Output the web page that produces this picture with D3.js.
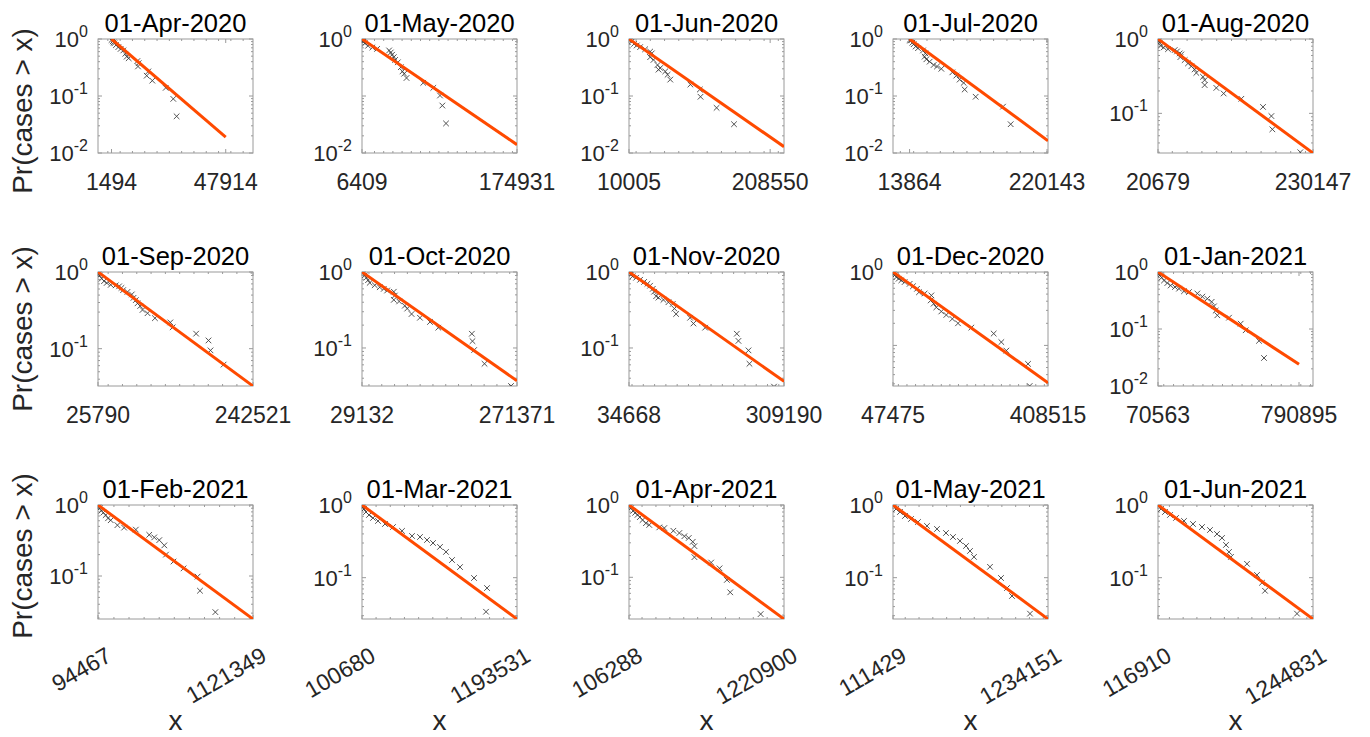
<!DOCTYPE html>
<html>
<head>
<meta charset="utf-8">
<script src="https://cdn.jsdelivr.net/npm/d3@7"></script>
<style>
  body { margin: 0; background: #fff; }
  text { font-family: "Liberation Sans", Arial, sans-serif; fill: #262626; }
</style>
</head>
<body>
<div id="chart"></div>
<script>
var width = 1370,
    height = 737;

// panel titles
var titles = ["01-Apr-2020", "01-May-2020", "01-Jun-2020", "01-Jul-2020", "01-Aug-2020",
    "01-Sep-2020", "01-Oct-2020", "01-Nov-2020", "01-Dec-2020", "01-Jan-2021",
    "01-Feb-2021", "01-Mar-2021", "01-Apr-2021", "01-May-2021", "01-Jun-2021"];

// x ticks = smallest and largest case count of each month
var xTicks = [[1494, 47914], [6409, 174931], [10005, 208550], [13864, 220143], [20679, 230147],
    [25790, 242521], [29132, 271371], [34668, 309190], [47475, 408515], [70563, 790895],
    [94467, 1121349], [100680, 1193531], [106288, 1220900], [111429, 1234151], [116910, 1244831]];

// x axis limits
var xLims = [[-4000, 59000], [6409, 174931], [10005, 228000], [-11000, 221600], [20679, 230147],
    [25790, 242521], [29132, 271371], [34668, 309190], [47475, 408515], [70563, 862400],
    [94467, 1121349], [100680, 1193531], [106288, 1220900], [111429, 1234151], [116910, 1244831]];

// lower y limit (upper is 10^0)
var yMins = [0.01, 0.01, 0.01, 0.01, 0.0293,
    0.0326, 0.0316, 0.0316, 0.028, 0.01,
    0.0248, 0.027, 0.0265, 0.027, 0.027];

// which decade labels are printed
var yTickExps = [[0, -1, -2], [0, -2], [0, -1, -2], [0, -1, -2], [0, -1],
    [0, -1], [0, -1], [0, -1], [0], [0, -1, -2],
    [0, -1], [0, -1], [0, -1], [0, -1], [0, -1]];

// exponential fit: from (x0, 1) to (x1, yEnd)
var fitX = [[1494, 47914], [6409, 174931], [10005, 228000], [13864, 221600], [20679, 230147],
    [25790, 242521], [29132, 271371], [34668, 309190], [47475, 408515], [70563, 790895],
    [94467, 1121349], [100680, 1193531], [106288, 1220900], [111429, 1234151], [116910, 1244831]];
var fitYEnd = [0.019, 0.014, 0.0129, 0.0164, 0.0293,
    0.0326, 0.037, 0.0364, 0.031, 0.024,
    0.0248, 0.027, 0.0265, 0.027, 0.027];

// empirical Pr(cases > x) points, [cases, probability]
var ptsApr20 = [[1494, 0.96], [1975, 0.91], [2300, 0.87], [2640, 0.84], [3290, 0.78], [4260, 0.72],
    [5200, 0.67], [6300, 0.63], [7100, 0.55], [7670, 0.49], [8480, 0.46], [12000, 0.41], [12540, 0.377],
    [12260, 0.33], [16460, 0.27], [15800, 0.227], [18080, 0.186], [23520, 0.139], [26600, 0.089], [27950, 0.044]];
var ptsMay20 = [[6409, 0.96], [6700, 0.94], [7100, 0.92], [7865, 0.89], [9685, 0.84], [12960, 0.76],
    [17690, 0.71], [22790, 0.67], [35890, 0.63], [37710, 0.58], [39170, 0.53], [40990, 0.48], [42440, 0.43],
    [45350, 0.39], [48630, 0.32], [50450, 0.27], [52270, 0.246], [54820, 0.207], [73020, 0.17],
    [83940, 0.139], [91220, 0.102], [93770, 0.068], [97770, 0.033]];
var ptsJun20 = [[10005, 0.96], [13780, 0.9], [17090, 0.82], [20860, 0.77], [25580, 0.72], [32660, 0.66],
    [39740, 0.6], [42100, 0.56], [39740, 0.48], [44460, 0.43], [50120, 0.35], [53900, 0.31], [51540, 0.29],
    [60970, 0.27], [64280, 0.236], [68050, 0.194], [96370, 0.159], [109600, 0.13], [110600, 0.097],
    [133200, 0.062], [157700, 0.032]];
var ptsJul20 = [[13864, 0.96], [15510, 0.94], [18010, 0.86], [20010, 0.81], [23010, 0.74], [26520, 0.69],
    [34020, 0.63], [37520, 0.56], [36520, 0.49], [39020, 0.44], [44020, 0.4], [50020, 0.35], [55030, 0.33],
    [61530, 0.3], [78040, 0.26], [84040, 0.228], [89040, 0.194], [95050, 0.17], [96550, 0.13],
    [113050, 0.097], [154100, 0.065], [165600, 0.032]];
var ptsAug20 = [[20679, 0.97], [22930, 0.89], [24280, 0.81], [28340, 0.77], [34190, 0.73], [43200, 0.71],
    [46360, 0.68], [49960, 0.64], [52210, 0.62], [50860, 0.57], [56720, 0.52], [61220, 0.47], [65730, 0.43],
    [70230, 0.39], [72480, 0.35], [81490, 0.31], [83740, 0.28], [83740, 0.24], [99510, 0.22], [109400, 0.185],
    [133300, 0.157], [162600, 0.122], [173900, 0.092], [175200, 0.061], [213000, 0.03]];
var ptsSep20 = [[25790, 0.98], [28130, 0.9], [30940, 0.82], [34220, 0.76], [37960, 0.72], [43580, 0.68],
    [50600, 0.67], [55280, 0.65], [58560, 0.62], [60900, 0.58], [66980, 0.55], [73070, 0.51], [75410, 0.46],
    [78690, 0.43], [81030, 0.39], [84770, 0.36], [88050, 0.32], [95070, 0.29], [105400, 0.25], [126900, 0.22],
    [130200, 0.19], [163000, 0.157], [180300, 0.128], [183100, 0.095], [201400, 0.062], [241100, 0.033]];
var ptsOct20 = [[29132, 0.97], [33320, 0.9], [35930, 0.84], [38550, 0.78], [41170, 0.72], [49010, 0.67],
    [56860, 0.63], [63140, 0.6], [68370, 0.57], [78840, 0.55], [80400, 0.49], [78840, 0.43], [87210, 0.41],
    [96100, 0.36], [99770, 0.33], [106600, 0.28], [119700, 0.25], [135400, 0.22], [148400, 0.185],
    [200800, 0.154], [201800, 0.123], [204400, 0.094], [220600, 0.062], [262000, 0.0316]];
var ptsNov20 = [[34668, 0.98], [37620, 0.92], [41210, 0.88], [47250, 0.84], [54330, 0.79], [61420, 0.74],
    [67320, 0.7], [72040, 0.66], [76770, 0.6], [79130, 0.55], [82670, 0.48], [86800, 0.46], [95660, 0.43],
    [104500, 0.4], [112200, 0.38], [115100, 0.33], [118100, 0.28], [142900, 0.25], [148800, 0.21],
    [169500, 0.185], [225600, 0.154], [228500, 0.124], [246300, 0.093], [248000, 0.062], [291500, 0.031]];
var ptsDec20 = [[47475, 0.97], [51360, 0.9], [55240, 0.85], [60670, 0.81], [66880, 0.77], [74650, 0.73],
    [86300, 0.69], [94060, 0.64], [103400, 0.59], [108000, 0.53], [121200, 0.51], [136800, 0.48],
    [135200, 0.41], [142200, 0.37], [148400, 0.33], [160000, 0.29], [171700, 0.26], [185700, 0.23],
    [198900, 0.2], [230000, 0.175], [282000, 0.145], [299800, 0.111], [311500, 0.085], [362000, 0.056],
    [365800, 0.028]];
var ptsJan21 = [[70563, 0.96], [79080, 0.87], [89300, 0.8], [101200, 0.71], [118300, 0.64], [135300, 0.58],
    [157400, 0.545], [177900, 0.51], [203400, 0.46], [228900, 0.445], [271500, 0.42], [297100, 0.37],
    [322600, 0.34], [344700, 0.3], [356700, 0.25], [365200, 0.21], [373700, 0.174], [433300, 0.158],
    [492900, 0.124], [518500, 0.095], [586600, 0.062], [612100, 0.031]];
var ptsFeb21 = [[94467, 0.98], [105600, 0.9], [116600, 0.83], [130000, 0.78], [145500, 0.72], [161000, 0.65],
    [178800, 0.61], [223100, 0.52], [267500, 0.48], [345100, 0.45], [433800, 0.38], [467100, 0.35],
    [500400, 0.32], [533700, 0.27], [544800, 0.2], [594700, 0.16], [661300, 0.128], [754400, 0.098],
    [770000, 0.062], [872000, 0.031]];
var ptsMar21 = [[100680, 0.969], [114800, 0.881], [128900, 0.801], [150000, 0.729], [178300, 0.663],
    [213500, 0.603], [262900, 0.548], [319300, 0.498], [382800, 0.44], [453300, 0.375], [509700, 0.363],
    [559100, 0.33], [601400, 0.3], [650700, 0.265], [693000, 0.226], [735400, 0.175], [791800, 0.14],
    [890500, 0.099], [982200, 0.072], [975100, 0.034]];
var ptsApr21 = [[106288, 0.98], [119500, 0.9], [136400, 0.83], [150800, 0.78], [167700, 0.73],
    [184500, 0.68], [203800, 0.62], [227900, 0.56], [251900, 0.53], [324100, 0.49], [360200, 0.48],
    [425200, 0.44], [468500, 0.41], [504600, 0.37], [535900, 0.35], [564800, 0.31], [576800, 0.27],
    [576800, 0.19], [697100, 0.16], [757300, 0.133], [810200, 0.092], [834300, 0.062], [1053000, 0.031]];
var ptsMay21 = [[111429, 0.969], [133200, 0.881], [162100, 0.801], [198300, 0.706], [241800, 0.642],
    [292500, 0.584], [357700, 0.515], [430100, 0.468], [495300, 0.412], [546000, 0.363], [596700, 0.32],
    [640200, 0.273], [669100, 0.233], [698100, 0.193], [814000, 0.141], [893700, 0.099], [937100, 0.072],
    [973300, 0.056], [1103800, 0.032]];
var ptsJun21 = [[116910, 0.969], [138700, 0.881], [167800, 0.801], [204200, 0.729], [247900, 0.663],
    [306100, 0.603], [371600, 0.548], [437100, 0.498], [495300, 0.453], [546200, 0.399], [582600, 0.352],
    [611700, 0.282], [633600, 0.226], [648100, 0.193], [764600, 0.155], [837300, 0.109], [873700, 0.085],
    [895600, 0.066], [1128400, 0.032]];

var points = [ptsApr20, ptsMay20, ptsJun20, ptsJul20, ptsAug20,
    ptsSep20, ptsOct20, ptsNov20, ptsDec20, ptsJan21,
    ptsFeb21, ptsMar21, ptsApr21, ptsMay21, ptsJun21];

// layout
var colLeft = [98, 362, 629, 893, 1158],
    rowTop = [39, 272, 505],
    pw = 155,
    ph = 114,
    yLabelCenter = [111, 329, 556];

var boxColor = "#9a9a9a",
    fitColor = "#ff4a00",
    fmt = d3.format("d"),
    supDigits = {"0": "0", "-1": "-1", "-2": "-2"};

var svg = d3.select("#chart")
    .append("svg")
    .attr("width", width)
    .attr("height", height)
    .style("background", "#fff");

titles.forEach(function (title, i) {
    var col = i % 5,
        row = Math.floor(i / 5),
        L = colLeft[col],
        T = rowTop[row],
        R = L + pw,
        B = T + ph;

    var x = d3.scaleLinear().domain(xLims[i]).range([L, R]);
    var y = d3.scaleLog().domain([yMins[i], 1]).range([B, T]);

    var g = svg.append("g").attr("class", "panel");

    g.append("clipPath")
        .attr("id", "clip" + i)
        .append("rect")
        .attr("x", L).attr("y", T).attr("width", pw).attr("height", ph);

    // minor x ticks
    x.ticks(14).forEach(function (v) {
        g.append("line").attr("x1", x(v)).attr("x2", x(v)).attr("y1", B).attr("y2", B - 2)
            .attr("stroke", boxColor);
        g.append("line").attr("x1", x(v)).attr("x2", x(v)).attr("y1", T).attr("y2", T + 2)
            .attr("stroke", boxColor);
    });
    // major x ticks
    xTicks[i].forEach(function (v) {
        g.append("line").attr("x1", x(v)).attr("x2", x(v)).attr("y1", B).attr("y2", B - 4)
            .attr("stroke", boxColor);
        g.append("line").attr("x1", x(v)).attr("x2", x(v)).attr("y1", T).attr("y2", T + 4)
            .attr("stroke", boxColor);
    });

    // y ticks, major + minor (log)
    [-2, -1].forEach(function (k) {
        d3.range(2, 10).forEach(function (m) {
            var v = m * Math.pow(10, k);
            if (v < yMins[i] || v > 1) return;
            g.append("line").attr("x1", L).attr("x2", L + 2).attr("y1", y(v)).attr("y2", y(v))
                .attr("stroke", boxColor);
            g.append("line").attr("x1", R).attr("x2", R - 2).attr("y1", y(v)).attr("y2", y(v))
                .attr("stroke", boxColor);
        });
    });
    [0, -1, -2].forEach(function (k) {
        var v = Math.pow(10, k);
        if (v < yMins[i]) return;
        g.append("line").attr("x1", L).attr("x2", L + 4).attr("y1", y(v)).attr("y2", y(v))
            .attr("stroke", boxColor);
        g.append("line").attr("x1", R).attr("x2", R - 4).attr("y1", y(v)).attr("y2", y(v))
            .attr("stroke", boxColor);
    });

    // box
    g.append("rect")
        .attr("x", L).attr("y", T).attr("width", pw).attr("height", ph)
        .attr("fill", "none").attr("stroke", boxColor).attr("stroke-width", 1);

    // data markers
    g.append("g")
        .attr("clip-path", "url(#clip" + i + ")")
        .selectAll("path")
        .data(points[i])
        .enter()
        .append("path")
        .attr("transform", function (d) { return "translate(" + x(d[0]) + "," + y(d[1]) + ")"; })
        .attr("d", "M-2.8,-2.8L2.8,2.8M-2.8,2.8L2.8,-2.8")
        .attr("stroke", "#404040")
        .attr("stroke-width", 0.9)
        .attr("fill", "none");

    // fitted line
    var line = d3.line()
        .x(function (d) { return x(d[0]); })
        .y(function (d) { return y(d[1]); });
    g.append("path")
        .datum([[fitX[i][0], 1], [fitX[i][1], fitYEnd[i]]])
        .attr("clip-path", "url(#clip" + i + ")")
        .attr("d", line)
        .attr("fill", "none")
        .attr("stroke", fitColor)
        .attr("stroke-width", 3);

    // y tick labels 10^k
    yTickExps[i].forEach(function (k) {
        var t = g.append("text")
            .attr("x", L - 10)
            .attr("y", y(Math.pow(10, k)) + 8)
            .attr("text-anchor", "end")
            .style("font-size", "22px");
        t.append("tspan").text("10");
        t.append("tspan").attr("dy", -10).style("font-size", "16px").text(supDigits[k]);
    });

    // x tick labels
    xTicks[i].forEach(function (v) {
        if (row < 2) {
            g.append("text")
                .attr("x", x(v))
                .attr("y", B + 37)
                .attr("text-anchor", "middle")
                .style("font-size", "23px")
                .text(fmt(v));
        } else {
            g.append("text")
                .attr("transform", "translate(" + (x(v) + 7) + "," + (B + 27) + ")rotate(-30)")
                .attr("dy", "0.71em")
                .attr("text-anchor", "end")
                .style("font-size", "23px")
                .text(fmt(v));
        }
    });

    // title
    g.append("text")
        .attr("x", (L + R) / 2)
        .attr("y", T - 7)
        .attr("text-anchor", "middle")
        .style("font-size", "25.5px")
        .style("fill", "#000")
        .text(title);

    // axis labels
    if (col === 0) {
        g.append("text")
            .attr("transform", "translate(32," + yLabelCenter[row] + ")rotate(-90)")
            .attr("text-anchor", "middle")
            .style("font-size", "28px")
            .text("Pr(cases > x)");
    }
    if (row === 2) {
        g.append("text")
            .attr("x", (L + R) / 2)
            .attr("y", 730)
            .attr("text-anchor", "middle")
            .style("font-size", "28px")
            .text("x");
    }
});
</script>
</body>
</html>
